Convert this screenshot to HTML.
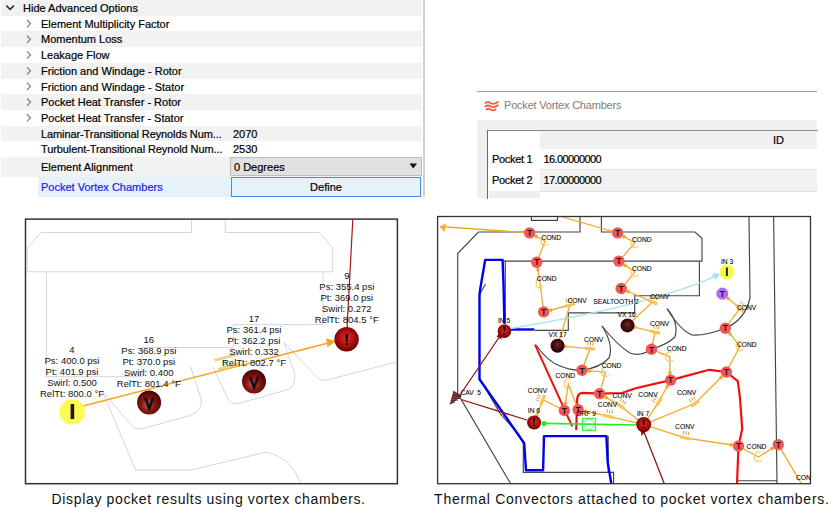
<!DOCTYPE html>
<html><head><meta charset="utf-8">
<style>
html,body{margin:0;padding:0;background:#fff;}
body{width:834px;height:509px;position:relative;overflow:hidden;font-family:"Liberation Sans",sans-serif;}
.pg{position:absolute;left:0;top:0;width:834px;height:509px;}
.row{position:absolute;left:1px;width:421px;height:16px;}
.g{background:#f2f2f2;}
.t{position:absolute;font-size:11px;color:#000;white-space:nowrap;line-height:13px;-webkit-text-stroke:0.2px currentColor;}
.chev{position:absolute;}
</style></head><body>
<div class="pg" id="grid">
  <div class="row g" style="top:0;height:15.7px"></div>
  <div class="row g" style="top:31.4px;height:15.7px"></div>
  <div class="row g" style="top:62.9px;height:15.7px"></div>
  <div class="row g" style="top:94.3px;height:15.7px"></div>
  <div class="row g" style="top:125.6px;height:15.7px"></div>
  <div class="row g" style="top:157px;height:19.6px"></div>
  <div class="row" style="top:176.6px;left:38px;width:384px;height:20.6px;background:#e5f1fb"></div>
  <div style="position:absolute;left:423px;top:0;width:2px;height:197px;background:#d2d2d2"></div>
  <svg class="chev" style="left:0;top:0" width="40" height="200">
    <path d="M6.3 5.6 L10.1 9.4 L13.9 5.6" fill="none" stroke="#333" stroke-width="1.6"/>
    <g fill="none" stroke="#858585" stroke-width="1.3">
      <path d="M27 20 L30.5 23.6 L27 27.2"/>
      <path d="M27 35.7 L30.5 39.3 L27 42.9"/>
      <path d="M27 51.4 L30.5 55 L27 58.6"/>
      <path d="M27 67.1 L30.5 70.7 L27 74.3"/>
      <path d="M27 82.8 L30.5 86.4 L27 90"/>
      <path d="M27 98.5 L30.5 102.1 L27 105.7"/>
      <path d="M27 114.2 L30.5 117.8 L27 121.4"/>
    </g>
  </svg>
  <div class="t" style="left:23px;top:2px">Hide Advanced Options</div>
  <div class="t" style="left:41px;top:17.7px">Element Multiplicity Factor</div>
  <div class="t" style="left:41px;top:33.4px">Momentum Loss</div>
  <div class="t" style="left:41px;top:49.1px">Leakage Flow</div>
  <div class="t" style="left:41px;top:64.8px">Friction and Windage - Rotor</div>
  <div class="t" style="left:41px;top:80.5px">Friction and Windage - Stator</div>
  <div class="t" style="left:41px;top:96.2px">Pocket Heat Transfer - Rotor</div>
  <div class="t" style="left:41px;top:111.9px">Pocket Heat Transfer - Stator</div>
  <div class="t" style="left:41px;top:127.6px;letter-spacing:-0.1px">Laminar-Transitional Reynolds Num...</div>
  <div class="t" style="left:41px;top:143.3px;letter-spacing:-0.1px">Turbulent-Transitional Reynold Num...</div>
  <div class="t" style="left:233px;top:127.6px">2070</div>
  <div class="t" style="left:233px;top:143.3px">2530</div>
  <div class="t" style="left:41px;top:160.5px">Element Alignment</div>
  <div class="t" style="left:41px;top:181px;color:#2222e6">Pocket Vortex Chambers</div>
  <div style="position:absolute;left:230px;top:157px;width:190px;height:17px;background:#e1e1e1;border:1px solid #bdbdbd"></div>
  <div class="t" style="left:234px;top:160.5px">0 Degrees</div>
  <svg style="position:absolute;left:408px;top:162px" width="12" height="8"><path d="M1.5 1.5 L9 1.5 L5.25 6.5Z" fill="#111"/></svg>
  <div style="position:absolute;left:231px;top:177px;width:188px;height:17.6px;background:#e5f1fb;border:1.2px solid #3c8ee6"></div>
  <div class="t" style="left:231px;top:181px;width:190px;text-align:center">Define</div>
</div>

<div class="pg" id="dlg">
  <div style="position:absolute;left:477px;top:91px;width:340px;height:1px;background:#a0a0a0"></div>
  <svg style="position:absolute;left:483px;top:97px" width="18" height="16">
    <path d="M4.5 5 Q8.5 1.5 12.5 5" fill="none" stroke="#e8e8e8" stroke-width="1.2"/>
    <g fill="none" stroke="#f2603f" stroke-width="1.9" stroke-linecap="round">
      <path d="M2.5 6 Q5 4.3 7.5 6 Q10 7.7 13 6 L14.8 5"/>
      <path d="M2.5 9.3 Q5 7.6 7.5 9.3 Q10 11 13 9.3 L14.8 8.3"/>
      <path d="M3.5 12.5 Q5.5 11 7.5 12.5 Q10 14 12.5 12.5"/>
    </g>
  </svg>
  <div class="t" style="left:504px;top:99px;color:#7d7d7d;letter-spacing:-0.2px;-webkit-text-stroke:0">Pocket Vortex Chambers</div>
  <div style="position:absolute;left:477px;top:119.5px;width:340px;height:78px;background:#f0f0f0"></div>
  <div style="position:absolute;left:487px;top:129.5px;width:330px;height:68px;background:#fff;border-left:1.5px solid #6a6a6a;border-top:1.5px solid #8a8a8a"></div>
  <div style="position:absolute;left:540px;top:131px;width:277px;height:18px;background:#f0f0f0"></div>
  <div style="position:absolute;left:540px;top:169px;width:277px;height:21px;background:#f2f2f2;border-top:1px solid #e0e0e0;border-bottom:1px solid #e0e0e0"></div>
  <div style="position:absolute;left:488.5px;top:191px;width:51px;height:6.5px;background:#eeeeee"></div>
  <div class="t" style="left:773px;top:134px">ID</div>
  <div class="t" style="left:492px;top:153px;letter-spacing:-0.3px">Pocket 1</div>
  <div class="t" style="left:492px;top:174px;letter-spacing:-0.3px">Pocket 2</div>
  <div class="t" style="left:543.5px;top:153px;letter-spacing:-0.6px">16.00000000</div>
  <div class="t" style="left:543.5px;top:174px;letter-spacing:-0.6px">17.00000000</div>
</div>

<svg class="pg" width="834" height="509" viewBox="0 0 834 509" style="font-family:'Liberation Sans',sans-serif">
  <defs>
    <radialGradient id="gI" cx="0.5" cy="0.45" r="0.55">
      <stop offset="0" stop-color="#e03030"/><stop offset="0.55" stop-color="#b01010"/><stop offset="1" stop-color="#6a0000"/>
    </radialGradient>
    <radialGradient id="gV" cx="0.45" cy="0.6" r="0.6">
      <stop offset="0" stop-color="#cc5a5a"/><stop offset="0.45" stop-color="#8a1818"/><stop offset="1" stop-color="#480000"/>
    </radialGradient>
    <radialGradient id="gV2" cx="0.5" cy="0.45" r="0.55">
      <stop offset="0" stop-color="#8a3030"/><stop offset="0.5" stop-color="#500808"/><stop offset="1" stop-color="#2a0000"/>
    </radialGradient>
  </defs>
  <!-- LEFT DIAGRAM -->
  <rect x="25.5" y="219.1" width="371.9" height="264.6" fill="none" stroke="#333" stroke-width="1.5"/>
  <g fill="none" stroke="#d6d6d6" stroke-width="1">
    <path d="M191.5 220 V232.5 H41.1 L27.2 248.1 V271.8 H332.4 V247.4 L319.2 232.5 H225.2 V220"/>
    <path d="M46.4 271.8 V376.7 H142 V347.5 H233.6 V324.6 H323 V271.8"/>
    <path d="M102.2 391 L129.6 423 Q134 430 141 429 L190.6 415.4 Q203 411 201.2 398.6 L190.4 366.2"/>
    <path d="M102.2 391 L135.7 470.2 H190.6 L266.8 452 Q292 458 300.4 483"/>
    <path d="M213 367.2 L227.7 398.6 Q232 405 240 403 L288.2 389.5 Q296 386 294.6 372.7 L283.8 342.2"/>
    <path d="M283.8 342.2 L317.2 377.6 Q321 381 327 380 L397 361.9"/>
  </g>
  <line x1="352.8" y1="219.5" x2="346.5" y2="338" stroke="#a8161e" stroke-width="1.2"/>
  <!-- orange arrow -->
  <path d="M83 406 L334 341.5" fill="none" stroke="#f5a623" stroke-width="1.6"/>
  <path d="M326 338.3 L336 341.3 L327.5 347.2 Z" fill="#f5a623"/>
  <g transform="translate(230,361.5) rotate(-14.5)">
    <rect x="-15" y="-6.5" width="22" height="3" fill="#e6d48a"/>
    <rect x="-13" y="3.2" width="22" height="3" fill="#e6d48a"/>
    <path d="M-8 -3 L-1 0.5 L-8 3.5 Z" fill="#bfe6dc"/>
  </g>
  <!-- node 4 octagon -->
  <polygon points="67.2,399.6 77.4,399.6 84.6,406.8 84.6,417 77.4,424.2 67.2,424.2 60,417 60,406.8" fill="#fbfb52"/>
  <rect x="70.6" y="404" width="3.6" height="15" fill="#1a1a1a"/>
  <circle cx="149.1" cy="402.5" r="12" fill="url(#gV)"/>
  <path d="M145.3 398 L149.2 408.3 L153.2 398" fill="none" stroke="#111" stroke-width="2.6"/>
  <circle cx="254" cy="381.5" r="12" fill="url(#gV)"/>
  <path d="M250.2 377 L254.1 387.3 L258.1 377" fill="none" stroke="#111" stroke-width="2.6"/>
  <circle cx="346.6" cy="339.3" r="12.2" fill="url(#gI)"/>
  <path d="M345.2 334 H348.2 L347.6 342 H345.8 Z" fill="#151515"/>
  <rect x="345.7" y="343" width="2.2" height="2" fill="#151515"/>
  <g font-size="9.5" fill="#111" text-anchor="middle">
    <text x="72" y="352.6">4</text>
    <text x="72" y="363.6">Ps: 400.0 psi</text>
    <text x="72" y="374.6">Pt: 401.9 psi</text>
    <text x="72" y="385.6">Swirl: 0.500</text>
    <text x="72" y="396.6">RelTt: 800.0 °F</text>
    <text x="148.8" y="343.0">16</text>
    <text x="148.8" y="354.0">Ps: 368.9 psi</text>
    <text x="148.8" y="365.0">Pt: 370.0 psi</text>
    <text x="148.8" y="376.0">Swirl: 0.400</text>
    <text x="148.8" y="387.0">RelTt: 801.4 °F</text>
    <text x="254" y="322.0">17</text>
    <text x="254" y="333.0">Ps: 361.4 psi</text>
    <text x="254" y="344.0">Pt: 362.2 psi</text>
    <text x="254" y="355.0">Swirl: 0.332</text>
    <text x="254" y="366.0">RelTt: 802.7 °F</text>
    <text x="346.8" y="279.4">9</text>
    <text x="346.8" y="290.4">Ps: 355.4 psi</text>
    <text x="346.8" y="301.4">Pt: 369.0 psi</text>
    <text x="346.8" y="312.4">Swirl: 0.272</text>
    <text x="346.8" y="323.4">RelTt: 804.5 °F</text>
  </g>
  <!-- captions -->
  <g font-size="14" fill="#111">
    <text x="51.6" y="504" letter-spacing="0.65">Display pocket results using vortex chambers.</text>
    <text x="434.1" y="504" letter-spacing="0.74">Thermal Convectors attached to pocket vortex chambers.</text>
  </g>
  <!-- RIGHT DIAGRAM -->
  <g id="right"><g fill="none" stroke="#454545" stroke-width="1.15">
<path d="M531.4 216.5 V220.3 H557.5 V216.5"/>
<path d="M580 216.5 V232 H478.4 L457.7 253.6 V393.6 L510.7 483.7"/>
<path d="M601.4 216.5 V232 H695 L702 238.3 V261.1 H503.5"/>
<path d="M505.3 261.1 V324"/>
<path d="M485.6 284 L479.3 294.8"/>
<path d="M699.4 261.1 V295.7 H634.7 V312.8 H568.3 V330.4 H535"/>
<path d="M480.2 379.2 L500 413.4 L518.8 434.3 L523.3 443 V472.3 H613.6 V483.7"/>
<path d="M608.2 436 V472.3"/>
<path d="M737 480.7 H777"/>
<path d="M536 345 Q548 362 560 366 Q572 371 582 370 Q600 368 609 358 Q614 345 602 326"/>
<path d="M602 326 Q618 346 630 353 Q640 357 651.5 349.3 Q668 344 675 337 Q679 322 667 308.7"/>
<path d="M667 308.7 Q680 330 692 335 Q705 336 725.3 328.2 Q745 320 750 298 L749 216.5"/>
<path d="M773.6 216.5 L777 483.7"/>
</g>
<path d="M504.4 323.6 L503.5 284 L502.6 259.9 H485.2 L480.2 289 L479.5 295 V379.2 L524.2 443.3 L526 470.3 H543.1 L544 436.1 H606.4 L607.7 462.2 L611.3 483.7" fill="none" stroke="#0000ee" stroke-width="2.4" stroke-linejoin="round"/>
<path d="M504.4 329.5 H534.5" fill="none" stroke="#0000ee" stroke-width="2.4"/>
<path d="M504.1 329.7 Q655 304.5 717.7 275.2" fill="none" stroke="#a8e6ee" stroke-width="1.4"/>
<path d="M713.5 272.5 L720 274.2 L716 279.5 L712 277Z" fill="#a8e6ee"/>
<path d="M576.2 430 L577.2 398.8 Q578 393 583 392.9 L599.6 393.6 L622 393 L635.6 388.2 L670.6 380.1 L709.3 369.8 L726.4 372 L737.8 381.2 L740 398.2 L742.2 429 L738.5 446 L737 483.7" fill="none" stroke="#ee1010" stroke-width="2.2" stroke-linejoin="round"/>
<line x1="535" y1="344.7" x2="572.2" y2="426.3" stroke="#ee1010" stroke-width="2"/>
<g stroke="#8c1818" stroke-width="1.3" fill="none"><path d="M460 395 L500 336"/><path d="M461 399.5 L527 420"/><path d="M644 432 L664.3 483.7"/></g>
<path d="M496.5 336.5 L502 330.5 L501.5 339.5Z" fill="#8c1818"/>
<path d="M640.5 429.5 L645.5 431.5 L641.5 436Z" fill="#8c1818"/>
<polygon points="462,396 453.5,390.5 449.5,405" fill="#8a1a1a" opacity="0.85"/>
<g stroke="#222" stroke-width="0.8"><path d="M453 392 L461 396 M452 395 L461 397 M451.5 398 L460 398.5 M451 401 L458 400 M450.5 403.5 L455 402"/></g>
<line x1="544" y1="423.4" x2="636" y2="425" stroke="#22ee22" stroke-width="1.6"/>
<circle cx="544" cy="423.5" r="2.6" fill="#22ee22"/>
<rect x="582.5" y="418.5" width="13" height="12" fill="none" stroke="#44ee44" stroke-width="1.4"/>
<circle cx="589" cy="424.5" r="5" fill="none" stroke="#66ee66" stroke-width="1"/>
<path d="M529.6 232.9 L440 226.5" fill="none" stroke="#f0aa2a" stroke-width="1.3"/>
<path d="M561 216.5 L617.6 232.9" fill="none" stroke="#f0aa2a" stroke-width="1.3"/>
<path d="M529.6 232.9 L545 241 L536.8 262.2" fill="none" stroke="#f0aa2a" stroke-width="1.3"/>
<path d="M536.8 262.2 L540 283 L543.7 311.9" fill="none" stroke="#f0aa2a" stroke-width="1.3"/>
<path d="M617.6 232.9 L635 243 L618.8 261.1" fill="none" stroke="#f0aa2a" stroke-width="1.3"/>
<path d="M618.8 261.1 L635 272 L621.2 288.5" fill="none" stroke="#f0aa2a" stroke-width="1.3"/>
<path d="M543.7 311.9 L570 305 L557.5 345.7" fill="none" stroke="#f0aa2a" stroke-width="1.3"/>
<path d="M621.2 288.5 L652.6 302 L627.5 325.4" fill="none" stroke="#f0aa2a" stroke-width="1.3"/>
<path d="M557.5 345.7 L590 348.7 L582 370.3" fill="none" stroke="#f0aa2a" stroke-width="1.3"/>
<path d="M627.5 325.4 L655 332.2 L651.5 349.3" fill="none" stroke="#f0aa2a" stroke-width="1.3"/>
<path d="M670.1 380.4 L669.7 356.8 L651.5 349.3" fill="none" stroke="#f0aa2a" stroke-width="1.3"/>
<path d="M582 370.3 L605.6 372.2 L599.6 393.6" fill="none" stroke="#f0aa2a" stroke-width="1.3"/>
<path d="M564.4 410.5 L568.3 384 L578.1 409.6" fill="none" stroke="#f0aa2a" stroke-width="1.3"/>
<path d="M534.1 422.5 L542.8 399.7 L564.4 410.5" fill="none" stroke="#f0aa2a" stroke-width="1.3"/>
<path d="M599.6 393.6 L620 405.6 L643.7 424.6" fill="none" stroke="#f0aa2a" stroke-width="1.3"/>
<path d="M578.1 409.6 L608.6 416.4 L643.7 424.6" fill="none" stroke="#f0aa2a" stroke-width="1.3"/>
<path d="M670.6 380.1 L659 401.7 L643.7 424.6" fill="none" stroke="#f0aa2a" stroke-width="1.3"/>
<path d="M726.4 372 L695 403.5 L643.7 424.6" fill="none" stroke="#f0aa2a" stroke-width="1.3"/>
<path d="M738.5 446 L685 437.9 L643.7 424.6" fill="none" stroke="#f0aa2a" stroke-width="1.3"/>
<path d="M722.3 293.6 L740 308.3 L725.3 328.2" fill="none" stroke="#f0aa2a" stroke-width="1.3"/>
<path d="M725.3 328.2 L740 346 L726.4 372" fill="none" stroke="#f0aa2a" stroke-width="1.3"/>
<path d="M778.3 444.6 L758.4 457 L738.5 446" fill="none" stroke="#f0aa2a" stroke-width="1.3"/>
<path d="M778.3 444.6 L801 483" fill="none" stroke="#f0aa2a" stroke-width="1.3"/>
<path d="M547.5 236.0 L543.5 236.0 L541.2 239.0 L541.2 243.0 L543.5 245.8 L548.5 244.5" fill="none" stroke="#f8cc60" stroke-width="1.2"/>
<polygon points="538.5,237.6 535.3,238.2 533.9,235.2 537.2,234.5" fill="#f0aa2a"/>
<path d="M542.5 278.0 L538.5 278.0 L536.2 281.0 L536.2 285.0 L538.5 287.8 L543.5 286.5" fill="none" stroke="#f8cc60" stroke-width="1.2"/>
<polygon points="538.3,272.2 535.9,269.9 537.5,267.0 540.0,269.3" fill="#f0aa2a"/>
<path d="M637.5 238.0 L633.5 238.0 L631.2 241.0 L631.2 245.0 L633.5 247.8 L638.5 246.5" fill="none" stroke="#f8cc60" stroke-width="1.2"/>
<polygon points="626.3,238.0 623.0,238.5 621.8,235.4 625.1,234.8" fill="#f0aa2a"/>
<path d="M637.5 267.0 L633.5 267.0 L631.2 270.0 L631.2 274.0 L633.5 276.8 L638.5 275.5" fill="none" stroke="#f8cc60" stroke-width="1.2"/>
<polygon points="627.2,266.7 623.9,267.0 622.9,263.8 626.2,263.5" fill="#f0aa2a"/>
<line x1="565.2" y1="306.3" x2="574.8" y2="303.7" stroke="#f8c450" stroke-width="3.2"/>
<line x1="566.8" y1="302.5" x2="565.9" y2="299.1" stroke="#c89030" stroke-width="0.9"/>
<line x1="569.2" y1="301.9" x2="568.3" y2="298.4" stroke="#c89030" stroke-width="0.9"/>
<line x1="571.6" y1="301.3" x2="570.7" y2="297.8" stroke="#c89030" stroke-width="0.9"/>
<polygon points="553.5,309.3 551.5,312.0 548.4,310.7 550.4,308.0" fill="#f0aa2a"/>
<line x1="648.0" y1="300.0" x2="657.2" y2="304.0" stroke="#f8c450" stroke-width="3.2"/>
<line x1="651.6" y1="298.1" x2="653.0" y2="294.8" stroke="#c89030" stroke-width="0.9"/>
<line x1="653.9" y1="299.1" x2="655.3" y2="295.8" stroke="#c89030" stroke-width="0.9"/>
<line x1="656.2" y1="300.0" x2="657.6" y2="296.7" stroke="#c89030" stroke-width="0.9"/>
<polygon points="630.5,292.5 627.3,293.4 625.7,290.4 628.9,289.5" fill="#f0aa2a"/>
<line x1="585.0" y1="348.2" x2="595.0" y2="349.2" stroke="#f8c450" stroke-width="3.2"/>
<line x1="587.8" y1="345.3" x2="588.1" y2="341.7" stroke="#c89030" stroke-width="0.9"/>
<line x1="590.3" y1="345.5" x2="590.6" y2="341.9" stroke="#c89030" stroke-width="0.9"/>
<line x1="592.8" y1="345.7" x2="593.1" y2="342.2" stroke="#c89030" stroke-width="0.9"/>
<polygon points="567.6,346.6 564.8,348.5 562.4,346.2 565.2,344.3" fill="#f0aa2a"/>
<line x1="650.1" y1="331.0" x2="659.9" y2="333.4" stroke="#f8c450" stroke-width="3.2"/>
<line x1="653.3" y1="328.5" x2="654.2" y2="325.0" stroke="#c89030" stroke-width="0.9"/>
<line x1="655.8" y1="329.1" x2="656.6" y2="325.6" stroke="#c89030" stroke-width="0.9"/>
<line x1="658.2" y1="329.7" x2="659.1" y2="326.2" stroke="#c89030" stroke-width="0.9"/>
<polygon points="637.3,327.8 634.3,329.2 632.3,326.6 635.3,325.2" fill="#f0aa2a"/>
<path d="M672.2 351.8 L668.2 351.8 L665.9 354.8 L665.9 358.8 L668.2 361.6 L673.2 360.3" fill="none" stroke="#f8cc60" stroke-width="1.2"/>
<polygon points="669.9,370.3 672.1,372.9 670.0,375.5 667.9,372.9" fill="#f0aa2a"/>
<path d="M608.1 367.2 L604.1 367.2 L601.8 370.2 L601.8 374.2 L604.1 377.0 L609.1 375.7" fill="none" stroke="#f8cc60" stroke-width="1.2"/>
<polygon points="592.1,371.1 589.3,373.0 586.9,370.7 589.6,368.8" fill="#f0aa2a"/>
<path d="M570.8 379.0 L566.8 379.0 L564.5 382.0 L564.5 386.0 L566.8 388.8 L571.8 387.5" fill="none" stroke="#f8cc60" stroke-width="1.2"/>
<polygon points="565.9,400.5 567.6,403.4 565.1,405.7 563.4,402.8" fill="#f0aa2a"/>
<line x1="541.0" y1="404.4" x2="544.6" y2="395.0" stroke="#f8c450" stroke-width="3.2"/>
<line x1="538.9" y1="400.9" x2="535.6" y2="399.6" stroke="#c89030" stroke-width="0.9"/>
<line x1="539.8" y1="398.6" x2="536.4" y2="397.3" stroke="#c89030" stroke-width="0.9"/>
<line x1="540.7" y1="396.2" x2="537.3" y2="394.9" stroke="#c89030" stroke-width="0.9"/>
<polygon points="537.7,413.1 538.7,416.2 535.8,417.9 534.8,414.7" fill="#f0aa2a"/>
<line x1="624.1" y1="408.5" x2="615.9" y2="402.7" stroke="#f8c450" stroke-width="3.2"/>
<line x1="623.9" y1="404.4" x2="626.0" y2="401.5" stroke="#c89030" stroke-width="0.9"/>
<line x1="621.8" y1="403.0" x2="623.9" y2="400.0" stroke="#c89030" stroke-width="0.9"/>
<line x1="619.8" y1="401.5" x2="621.9" y2="398.6" stroke="#c89030" stroke-width="0.9"/>
<polygon points="608.3,398.7 605.0,399.2 603.8,396.1 607.1,395.6" fill="#f0aa2a"/>
<line x1="613.5" y1="417.5" x2="603.7" y2="415.3" stroke="#f8c450" stroke-width="3.2"/>
<line x1="611.8" y1="413.8" x2="612.6" y2="410.3" stroke="#c89030" stroke-width="0.9"/>
<line x1="609.3" y1="413.3" x2="610.1" y2="409.8" stroke="#c89030" stroke-width="0.9"/>
<line x1="606.9" y1="412.7" x2="607.7" y2="409.2" stroke="#c89030" stroke-width="0.9"/>
<polygon points="588.0,411.8 585.0,413.3 582.9,410.7 585.9,409.2" fill="#f0aa2a"/>
<line x1="656.4" y1="406.0" x2="661.6" y2="397.4" stroke="#f8c450" stroke-width="3.2"/>
<line x1="655.0" y1="402.2" x2="651.9" y2="400.3" stroke="#c89030" stroke-width="0.9"/>
<line x1="656.3" y1="400.0" x2="653.2" y2="398.2" stroke="#c89030" stroke-width="0.9"/>
<line x1="657.6" y1="397.9" x2="654.5" y2="396.0" stroke="#c89030" stroke-width="0.9"/>
<polygon points="665.8,389.0 665.2,385.7 668.3,384.4 668.9,387.7" fill="#f0aa2a"/>
<line x1="690.8" y1="406.2" x2="699.2" y2="400.8" stroke="#f8c450" stroke-width="3.2"/>
<line x1="691.2" y1="402.1" x2="689.2" y2="399.1" stroke="#c89030" stroke-width="0.9"/>
<line x1="693.3" y1="400.8" x2="691.4" y2="397.8" stroke="#c89030" stroke-width="0.9"/>
<line x1="695.4" y1="399.5" x2="693.5" y2="396.4" stroke="#c89030" stroke-width="0.9"/>
<polygon points="719.3,379.2 719.6,375.8 722.9,375.5 722.6,378.8" fill="#f0aa2a"/>
<line x1="680.1" y1="436.8" x2="689.9" y2="439.0" stroke="#f8c450" stroke-width="3.2"/>
<line x1="683.3" y1="434.2" x2="684.1" y2="430.7" stroke="#c89030" stroke-width="0.9"/>
<line x1="685.7" y1="434.8" x2="686.5" y2="431.3" stroke="#c89030" stroke-width="0.9"/>
<line x1="688.1" y1="435.3" x2="688.9" y2="431.8" stroke="#c89030" stroke-width="0.9"/>
<polygon points="728.5,444.5 731.4,442.8 733.7,445.3 730.8,447.0" fill="#f0aa2a"/>
<line x1="736.2" y1="305.1" x2="743.8" y2="311.5" stroke="#f8c450" stroke-width="3.2"/>
<line x1="740.1" y1="304.2" x2="742.4" y2="301.5" stroke="#c89030" stroke-width="0.9"/>
<line x1="742.0" y1="305.8" x2="744.3" y2="303.1" stroke="#c89030" stroke-width="0.9"/>
<line x1="744.0" y1="307.4" x2="746.3" y2="304.7" stroke="#c89030" stroke-width="0.9"/>
<polygon points="730.1,300.1 726.7,300.0 726.1,296.7 729.4,296.8" fill="#f0aa2a"/>
<path d="M742.5 341.0 L738.5 341.0 L736.2 344.0 L736.2 348.0 L738.5 350.8 L743.5 349.5" fill="none" stroke="#f8cc60" stroke-width="1.2"/>
<polygon points="731.7,336.0 728.5,335.3 728.4,332.0 731.7,332.6" fill="#f0aa2a"/>
<path d="M760.9 452.0 L756.9 452.0 L754.6 455.0 L754.6 459.0 L756.9 461.8 L761.9 460.5" fill="none" stroke="#f8cc60" stroke-width="1.2"/>
<polygon points="769.7,449.9 770.8,446.8 774.1,447.2 773.0,450.3" fill="#f0aa2a"/>
<path d="M440 227 L446 223 L444.5 232Z" fill="#f0aa2a"/>
<circle cx="529.6" cy="232.9" r="5.7" fill="#f25656"/>
<text x="529.6" y="236.1" font-size="8.5" font-weight="bold" text-anchor="middle" fill="#1a1a1a">T</text>
<circle cx="536.8" cy="262.2" r="5.7" fill="#f25656"/>
<text x="536.8" y="265.4" font-size="8.5" font-weight="bold" text-anchor="middle" fill="#1a1a1a">T</text>
<circle cx="543.7" cy="311.9" r="5.7" fill="#f25656"/>
<text x="543.7" y="315.09999999999997" font-size="8.5" font-weight="bold" text-anchor="middle" fill="#1a1a1a">T</text>
<circle cx="617.6" cy="232.9" r="5.7" fill="#f25656"/>
<text x="617.6" y="236.1" font-size="8.5" font-weight="bold" text-anchor="middle" fill="#1a1a1a">T</text>
<circle cx="618.8" cy="261.1" r="5.7" fill="#f25656"/>
<text x="618.8" y="264.3" font-size="8.5" font-weight="bold" text-anchor="middle" fill="#1a1a1a">T</text>
<circle cx="621.2" cy="288.5" r="5.7" fill="#f25656"/>
<text x="621.2" y="291.7" font-size="8.5" font-weight="bold" text-anchor="middle" fill="#1a1a1a">T</text>
<circle cx="582" cy="370.3" r="5.7" fill="#f25656"/>
<text x="582" y="373.5" font-size="8.5" font-weight="bold" text-anchor="middle" fill="#1a1a1a">T</text>
<circle cx="651.5" cy="349.3" r="5.7" fill="#f25656"/>
<text x="651.5" y="352.5" font-size="8.5" font-weight="bold" text-anchor="middle" fill="#1a1a1a">T</text>
<circle cx="599.6" cy="393.6" r="5.7" fill="#f25656"/>
<text x="599.6" y="396.8" font-size="8.5" font-weight="bold" text-anchor="middle" fill="#1a1a1a">T</text>
<circle cx="670.6" cy="380.1" r="5.7" fill="#f25656"/>
<text x="670.6" y="383.3" font-size="8.5" font-weight="bold" text-anchor="middle" fill="#1a1a1a">T</text>
<circle cx="726.4" cy="372" r="5.7" fill="#f25656"/>
<text x="726.4" y="375.2" font-size="8.5" font-weight="bold" text-anchor="middle" fill="#1a1a1a">T</text>
<circle cx="564.4" cy="410.5" r="5.7" fill="#f25656"/>
<text x="564.4" y="413.7" font-size="8.5" font-weight="bold" text-anchor="middle" fill="#1a1a1a">T</text>
<circle cx="578.1" cy="409.6" r="5.7" fill="#f25656"/>
<text x="578.1" y="412.8" font-size="8.5" font-weight="bold" text-anchor="middle" fill="#1a1a1a">T</text>
<circle cx="725.3" cy="328.2" r="5.7" fill="#f25656"/>
<text x="725.3" y="331.4" font-size="8.5" font-weight="bold" text-anchor="middle" fill="#1a1a1a">T</text>
<circle cx="738.5" cy="446" r="5.7" fill="#f25656"/>
<text x="738.5" y="449.2" font-size="8.5" font-weight="bold" text-anchor="middle" fill="#1a1a1a">T</text>
<circle cx="778.3" cy="444.6" r="5.7" fill="#f25656"/>
<text x="778.3" y="447.8" font-size="8.5" font-weight="bold" text-anchor="middle" fill="#1a1a1a">T</text>
<polygon points="720,287.8 724.6,287.8 728.1,291.3 728.1,295.9 724.6,299.4 720,299.4 716.5,295.9 716.5,291.3" fill="#b26cf0"/>
<text x="722.3" y="296.8" font-size="8.5" font-weight="bold" text-anchor="middle" fill="#1a1a1a">T</text>
<circle cx="504.4" cy="331.1" r="6.8" fill="url(#gI)"/>
<path d="M503.29999999999995 326.6 H505.5 L505.09999999999997 332.1 H503.7Z" fill="#111"/><rect x="503.59999999999997" y="333.1" width="1.6" height="1.6" fill="#111"/>
<circle cx="534.1" cy="422.5" r="7" fill="url(#gI)"/>
<path d="M533.0 418.0 H535.2 L534.8000000000001 423.5 H533.4Z" fill="#111"/><rect x="533.3000000000001" y="424.5" width="1.6" height="1.6" fill="#111"/>
<circle cx="643.7" cy="424.6" r="7.5" fill="url(#gI)"/>
<path d="M642.6 420.1 H644.8000000000001 L644.4000000000001 425.6 H643.0Z" fill="#111"/><rect x="642.9000000000001" y="426.6" width="1.6" height="1.6" fill="#111"/>
<circle cx="557.5" cy="345.7" r="7" fill="url(#gV2)" />
<path d="M554.7 342.5 L557.5 348.9 L560.3 342.5" fill="none" stroke="#2a2a2a" stroke-width="1.5"/>
<circle cx="627.5" cy="325.4" r="7" fill="url(#gV2)" />
<path d="M624.7 322.2 L627.5 328.59999999999997 L630.3 322.2" fill="none" stroke="#2a2a2a" stroke-width="1.5"/>
<polygon points="723.9,264.7 729.9,264.7 734.1,268.9 734.1,274.9 729.9,279.1 723.9,279.1 719.7,274.9 719.7,268.9" fill="#f8f84a"/>
<rect x="725.9" y="267.5" width="2" height="8.5" fill="#222"/>
<g font-size="6.7" fill="#000" stroke="#000" stroke-width="0.08">
<text x="541.3" y="240">COND</text>
<text x="536.8" y="280.5">COND</text>
<text x="632" y="241.9">COND</text>
<text x="632" y="271.2">COND</text>
<text x="567.4" y="302.9">CONV</text>
<text x="593.3" y="303.8">SEALTOOTH 2</text>
<text x="650" y="298.7">CONV</text>
<text x="548.5" y="337">VX 17</text>
<text x="617.6" y="317.3">VX 16</text>
<text x="498" y="322.7">IN 5</text>
<text x="721" y="263.5">IN 3</text>
<text x="650" y="326.3">CONV</text>
<text x="666.8" y="351.3">COND</text>
<text x="737" y="309.8">CONV</text>
<text x="737" y="347.3">COND</text>
<text x="584" y="341.8">CONV</text>
<text x="601.7" y="368.3">COND</text>
<text x="555.5" y="378.1">COND</text>
<text x="527.8" y="392.7">CONV</text>
<text x="460.4" y="394.5">CAV&#160; 5</text>
<text x="527.8" y="413.4">IN 6</text>
<text x="576.2" y="416.4">ORF 9</text>
<text x="612.5" y="397.8">CONV</text>
<text x="597.8" y="406.6">CONV</text>
<text x="638.3" y="397.2">CONV</text>
<text x="677" y="395.4">CONV</text>
<text x="637" y="416">IN 7</text>
<text x="675.1" y="428.9">CONV</text>
<text x="746.6" y="449">COND</text>
<text x="796" y="480">CON</text>
</g></g><!--endright-->
  <rect x="437.6" y="216.5" width="372.9" height="267.2" fill="none" stroke="#333" stroke-width="1.3"/>
</svg>
</body></html>
